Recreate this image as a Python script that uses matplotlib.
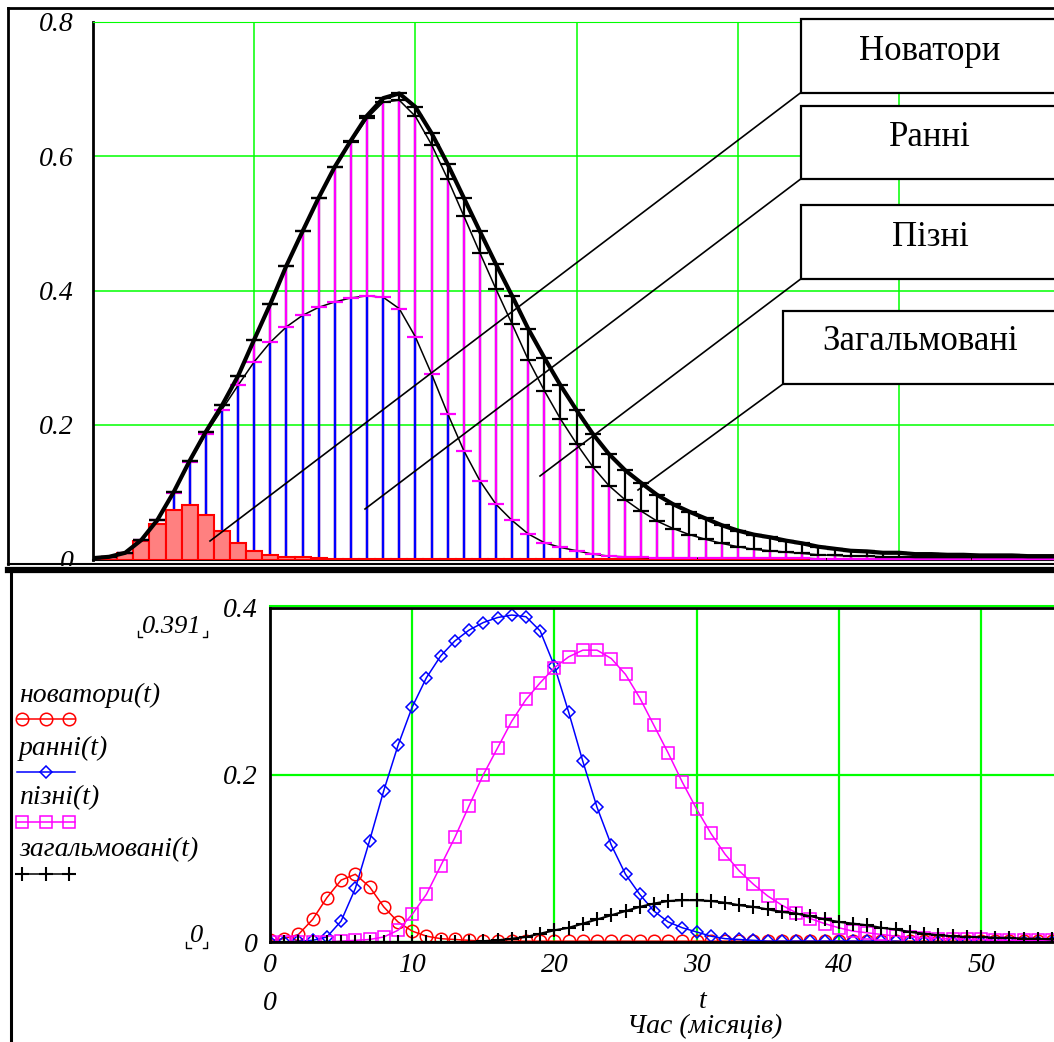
import matplotlib.pyplot as plt
import numpy as np
from matplotlib.patches import Rectangle

# months 0..60, values
t = np.arange(0, 61)

novatori = [0.002, 0.004, 0.009, 0.027, 0.053, 0.074, 0.081, 0.066, 0.042, 0.024,
            0.013, 0.007, 0.004, 0.003, 0.002] + [0.001] * 46
ranni = [0.000, 0.000, 0.001, 0.002, 0.006, 0.025, 0.064, 0.121, 0.181, 0.235,
         0.281, 0.316, 0.342, 0.360, 0.373, 0.382, 0.388, 0.391, 0.389, 0.372,
         0.330, 0.275, 0.216, 0.161, 0.116, 0.081, 0.057, 0.037, 0.024, 0.017,
         0.012, 0.007, 0.004, 0.003, 0.002] + [0.001] * 10 + [0.0] * 16
pizni = [0.0, 0.0, 0.0, 0.0, 0.0, 0.001, 0.002, 0.003, 0.006, 0.014,
         0.033, 0.057, 0.091, 0.125, 0.163, 0.200, 0.232, 0.264, 0.290, 0.310,
         0.328, 0.341, 0.349, 0.349, 0.339, 0.320, 0.292, 0.259, 0.226, 0.191,
         0.159, 0.130, 0.105, 0.085, 0.069, 0.055, 0.044, 0.035, 0.028, 0.022,
         0.017, 0.013, 0.011, 0.009, 0.007, 0.006, 0.005, 0.004, 0.004, 0.003,
         0.003] + [0.002] * 10
zagalm = [0.0] * 15 + [0.001, 0.002, 0.004, 0.006, 0.010,
                       0.014, 0.017, 0.022, 0.027, 0.032, 0.037, 0.042, 0.046, 0.049, 0.050,
                       0.050, 0.049, 0.047, 0.044, 0.042, 0.039, 0.036, 0.034, 0.031, 0.027,
                       0.024, 0.022, 0.020, 0.017, 0.015, 0.012, 0.010, 0.008, 0.007, 0.006,
                       0.006, 0.005, 0.005, 0.004, 0.004, 0.003, 0.003, 0.003, 0.002, 0.002,
                       0.002]

box_labels = ["Новатори", "Ранні", "Пізні", "Загальмовані"]
legend_labels = ["новатори(t)", "ранні(t)", "пізні(t)", "загальмовані(t)"]

W, H = 1054, 1042
GREEN = "#00FF00"
MAG = "#FF00FF"
SERIF = ["Liberation Serif", "DejaVu Serif"]


def rect(left, top, right, bottom):
    return [left / W, 1 - bottom / H, (right - left) / W, (bottom - top) / H]


n = np.array(novatori)
nr = n + np.array(ranni)
nrp = nr + np.array(pizni)
total = nrp + np.array(zagalm)

fig = plt.figure(figsize=(W / 100, H / 100), dpi=100)
fig.patch.set_facecolor("white")

# ---- upper stacked chart ----
ax1 = fig.add_axes(rect(93, 21.5, 1054, 559.5), zorder=0)
ax1.set_xlim(0, 961 / 16.12)
ax1.set_ylim(0, 0.8)
ax1.vlines(t, 0, total, color="black", lw=1.6, zorder=2)
ax1.vlines(t, 0, nrp, color=MAG, lw=1.6, zorder=3)
ax1.vlines(t, 0, nr, color="#0000FF", lw=1.6, zorder=4)
ax1.bar(t, n, width=1, color="#FF8080", edgecolor="#FF0000", lw=1.5, zorder=5)
ax1.plot(t, nr, color="black", lw=1.1, marker="_", ms=11, mew=1.6, mec=MAG, zorder=6)
ax1.plot(t, nrp, color="black", lw=1.1, marker="_", ms=11, mew=1.6, mec="black", zorder=6)
ax1.plot(t, total, color="black", lw=3, marker="_", ms=11, mew=1.6, zorder=7)
ax1.set_xticks(np.arange(0, 60, 10))
ax1.set_yticks([0, 0.2, 0.4, 0.6, 0.8])
ax1.set_yticklabels(["0", "0.2", "0.4", "0.6", "0.8"])
ax1.set_xticklabels([])
ax1.grid(True, color=GREEN, lw=1.1)
ax1.set_axisbelow(True)
ax1.tick_params(length=0, pad=14)
for lab in ax1.get_yticklabels():
    lab.set_family(SERIF)
    lab.set_style("italic")
    lab.set_fontsize(20)
ax1.spines["right"].set_visible(False)
ax1.spines["top"].set_color(GREEN)
ax1.spines["left"].set_linewidth(2)
ax1.spines["bottom"].set_linewidth(1.5)

# ---- overlay in pixel coordinates ----
ov = fig.add_axes([0, 0, 1, 1], zorder=1)
ov.set_xlim(0, W)
ov.set_ylim(H, 0)
ov.axis("off")
ov.patch.set_alpha(0)

# frame of upper panel
ov.plot([8, 1060], [8, 8], color="black", lw=2)
ov.plot([8, 8], [8, 564], color="black", lw=2)
ov.plot([8, 1060], [564, 564], color="black", lw=1.5)
# lower panel background and frame
ov.add_patch(Rectangle((0, 566), W, H - 566, facecolor="white", edgecolor="none"))
ov.plot([8, 1060], [570, 570], color="black", lw=4.5)
ov.plot([10.5, 10.5], [570, 1050], color="black", lw=2.2)

# callout boxes with leader lines
boxes = [(800.7, 19, 92.7, 930, 51), (800.7, 106, 179, 930, 137),
         (800.7, 205, 279, 930, 237), (783, 310.7, 384, 920, 342)]
ends = [(210, 541), (365, 509), (540, 476), (638, 490)]
for (bx, btop, bbot, tx, ty), (ex, ey), lab in zip(boxes, ends, box_labels):
    ov.plot([bx, ex], [bbot, ey], color="black", lw=1.2)
    ov.add_patch(Rectangle((bx, btop), 300, bbot - btop, facecolor="white",
                           edgecolor="black", lw=1.6, zorder=3))
    ov.text(tx, ty, lab, family=SERIF, fontsize=25, ha="center", va="center", zorder=4)

# legend of lower chart
styles = [dict(color="#FF0000", marker="o", ms=9, mfc="none", mew=1.1),
          dict(color="#0000FF", marker="D", ms=6, mfc="none", mew=1.1),
          dict(color=MAG, marker="s", ms=9, mfc="none", mew=1.1),
          dict(color="black", marker="+", ms=10, mew=1.5)]
leg_y = [695, 748, 798, 850]
for lab, y, st in zip(legend_labels, leg_y, styles):
    ov.text(19, y, lab, family=SERIF, style="italic", fontsize=20, ha="left", va="center")
    ov.plot([17, 75], [y + 24, y + 24], color=st["color"], lw=1.1)
    mx = [46] if st["marker"] == "D" else [22, 46, 69]
    ov.plot(mx, [y + 24] * len(mx), ls="none", **st)

# Mathcad limit fields
ov.text(172, 627, "0.391", family=SERIF, style="italic", fontsize=19, ha="center", va="center")
ov.text(197, 936, "0", family=SERIF, style="italic", fontsize=19, ha="center", va="center")
for xl, xr, yb in [(137.5, 207, 637), (186, 207, 947.5)]:
    ov.plot([xl, xl, xl + 4.5], [yb - 6, yb, yb], color="black", lw=1)
    ov.plot([xr - 4.5, xr, xr], [yb, yb, yb - 6], color="black", lw=1)

ov.plot([270, 1054], [605.5, 605.5], color=GREEN, lw=1.5)
ov.text(270, 1003, "0", family=SERIF, style="italic", fontsize=20, ha="center", va="center")
ov.text(703, 1001, "t", family=SERIF, style="italic", fontsize=20, ha="center", va="center")
ov.text(705, 1026, "Час (місяців)", family=SERIF, style="italic", fontsize=20,
        ha="center", va="center")

# ---- lower line chart ----
ax2 = fig.add_axes(rect(270, 607.5, 1054, 942), zorder=2)
ax2.set_xlim(0, 784 / 14.22)
ax2.set_ylim(0, 0.4)
ax2.plot(t, novatori, lw=1.1, **styles[0])
ax2.plot(t, ranni, lw=1.1, **styles[1])
ax2.plot(t, pizni, lw=1.1, **styles[2])
ax2.plot(t, zagalm, lw=1.5, **styles[3])
ax2.set_xticks(np.arange(0, 60, 10))
ax2.set_xticklabels([str(v) for v in range(0, 60, 10)])
ax2.set_yticks([0, 0.2, 0.4])
ax2.set_yticklabels(["0", "0.2", "0.4"])
ax2.grid(True, color=GREEN, lw=1.6)
ax2.set_axisbelow(True)
ax2.tick_params(length=0, labelsize=20)
ax2.tick_params(axis="y", pad=9)
ax2.tick_params(axis="x", pad=8)
for lab in ax2.get_xticklabels() + ax2.get_yticklabels():
    lab.set_family(SERIF)
    lab.set_style("italic")
ax2.spines["right"].set_visible(False)
for s in ["left", "bottom", "top"]:
    ax2.spines[s].set_linewidth(2)

fig.savefig("out.png", dpi=100)
